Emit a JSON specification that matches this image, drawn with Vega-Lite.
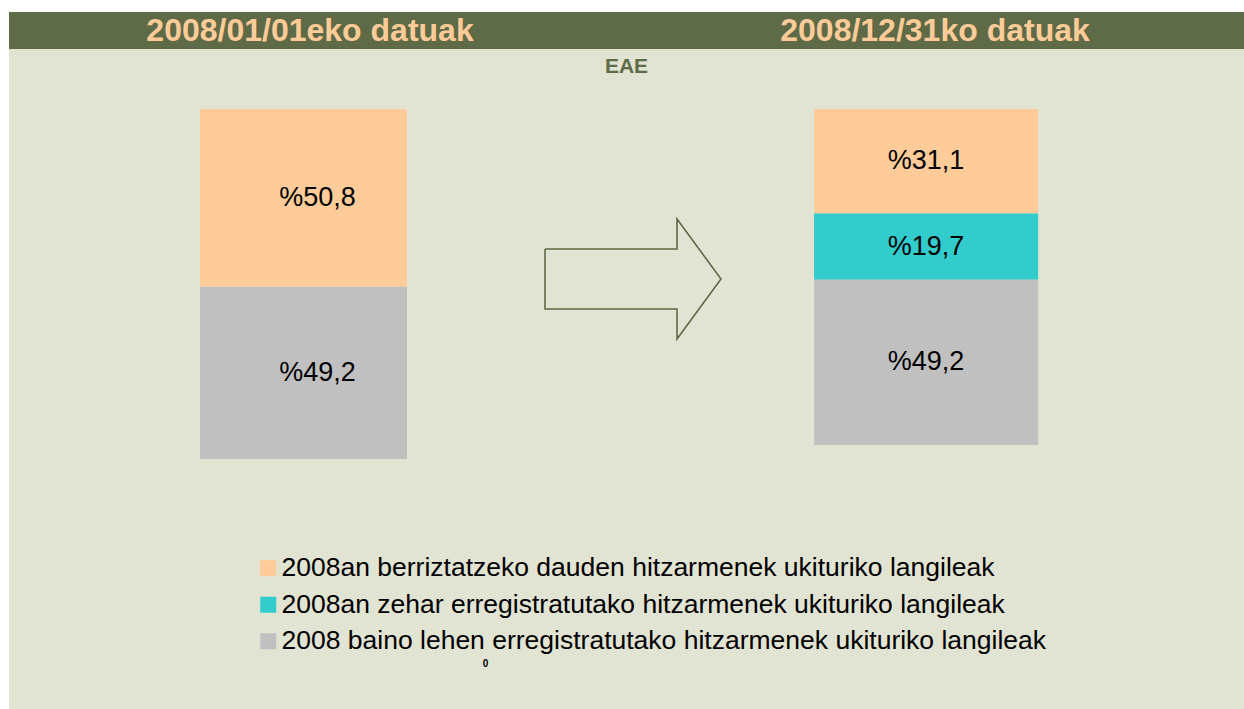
{
  "$schema": "https://vega.github.io/schema/vega-lite/v6.json",
  "background": "#E1E3D3",
  "padding": 0,
  "spacing": 0,
  "config": {
    "font": "Liberation Sans",
    "view": {"stroke": null},
    "concat": {"spacing": 0},
    "legend": {
      "orient": "none",
      "legendX": 255,
      "legendY": 555,
      "title": null,
      "symbolType": "square",
      "symbolSize": 256,
      "symbolStrokeWidth": 0,
      "symbolOffset": 0,
      "labelFont": "Liberation Sans",
      "labelFontSize": 26.5,
      "labelColor": "#000000",
      "labelLimit": 1000,
      "labelOffset": 0,
      "rowPadding": 9.5,
      "padding": 0
    }
  },
  "hconcat": [
    {
      "width": 9,
      "height": 709,
      "view": {"fill": "#FFFFFF", "stroke": null},
      "data": {"values": [{"t": ""}]},
      "mark": {"type": "text"},
      "encoding": {"text": {"field": "t", "type": "nominal"}}
    },
    {
      "spacing": 0,
      "vconcat": [
        {
          "width": 1235,
          "height": 12,
          "view": {"fill": "#FFFFFF", "stroke": null},
          "data": {"values": [{"t": ""}]},
          "mark": {"type": "text"},
          "encoding": {"text": {"field": "t", "type": "nominal"}}
        },
        {
          "width": 1235,
          "height": 37,
          "view": {"fill": "#5E6B46", "stroke": null},
          "data": {"values": [{"t": "2008/01/01eko datuak"}, {"t": "2008/12/31ko datuak"}]},
          "mark": {"type": "text", "fontSize": 32, "fontWeight": "bold", "color": "#FFCC99", "dx": -4},
          "encoding": {
            "x": {"field": "t", "type": "nominal", "sort": null, "axis": null, "scale": {"type": "point", "padding": 0.488}},
            "text": {"field": "t", "type": "nominal"}
          }
        },
        {
          "width": 1235,
          "height": 60,
          "data": {"values": [{"t": "EAE"}]},
          "mark": {"type": "text", "fontSize": 21, "fontWeight": "bold", "color": "#5E6B46", "dy": -12},
          "encoding": {"text": {"field": "t", "type": "nominal"}}
        },
        {
          "spacing": 0,
          "hconcat": [
            {
              "width": 461,
              "height": 350,
              "data": {"values": [
                {"fecha": "2008/01/01", "cat": "2008an berriztatzeko dauden hitzarmenek ukituriko langileak", "ord": 3, "pct": 50.8, "label": "%50,8"},
                {"fecha": "2008/01/01", "cat": "2008 baino lehen erregistratutako hitzarmenek ukituriko langileak", "ord": 1, "pct": 49.2, "label": "%49,2"}
              ]},
              "transform": [
                {"stack": "pct", "groupby": ["fecha"], "sort": [{"field": "ord", "order": "ascending"}], "as": ["y0", "y1"]},
                {"calculate": "(datum.y0 + datum.y1) / 2", "as": "ymid"}
              ],
              "encoding": {
                "x": {"field": "fecha", "type": "nominal", "axis": null, "scale": {"paddingInner": 0, "paddingOuter": 0.6135, "align": 0.752}}
              },
              "layer": [
                {
                  "mark": {"type": "bar", "stroke": null},
                  "encoding": {
                    "y": {"field": "y1", "type": "quantitative", "axis": null, "scale": {"domain": [0, 100], "nice": false}},
                    "y2": {"field": "y0"},
                    "color": {
                      "field": "cat", "type": "nominal",
                      "scale": {
                        "domain": ["2008an berriztatzeko dauden hitzarmenek ukituriko langileak", "2008an zehar erregistratutako hitzarmenek ukituriko langileak", "2008 baino lehen erregistratutako hitzarmenek ukituriko langileak"],
                        "range": ["#FFCC99", "#33CCCC", "#C0C0C0"]
                      },
                      "legend": {"orient": "none", "legendX": 255, "legendY": 555, "title": null}
                    }
                  }
                },
                {
                  "mark": {"type": "text", "fontSize": 27, "color": "#000000", "dx": 14},
                  "encoding": {
                    "y": {"field": "ymid", "type": "quantitative", "axis": null, "scale": {"domain": [0, 100], "nice": false}},
                    "text": {"field": "label", "type": "nominal"}
                  }
                }
              ]
            },
            {
              "width": 290,
              "height": 350,
              "data": {"values": [
                {"i": 1, "ax": 0, "ay": 30},
                {"i": 2, "ax": 132, "ay": 30},
                {"i": 3, "ax": 132, "ay": 60},
                {"i": 4, "ax": 176, "ay": 0},
                {"i": 5, "ax": 132, "ay": -60},
                {"i": 6, "ax": 132, "ay": -30},
                {"i": 7, "ax": 0, "ay": -30},
                {"i": 8, "ax": 0, "ay": 30}
              ]},
              "mark": {"type": "line", "color": "#5E6B46", "strokeWidth": 1.6, "strokeJoin": "miter"},
              "encoding": {
                "x": {"field": "ax", "type": "quantitative", "axis": null, "scale": {"domain": [-75, 215], "nice": false, "zero": false}},
                "y": {"field": "ay", "type": "quantitative", "axis": null, "scale": {"domain": [-180, 170], "nice": false, "zero": false}},
                "order": {"field": "i", "type": "quantitative"}
              }
            },
            {
              "width": 484,
              "height": 336,
              "data": {"values": [
                {"fecha": "2008/12/31", "cat": "2008an berriztatzeko dauden hitzarmenek ukituriko langileak", "ord": 3, "pct": 31.1, "label": "%31,1"},
                {"fecha": "2008/12/31", "cat": "2008an zehar erregistratutako hitzarmenek ukituriko langileak", "ord": 2, "pct": 19.7, "label": "%19,7"},
                {"fecha": "2008/12/31", "cat": "2008 baino lehen erregistratutako hitzarmenek ukituriko langileak", "ord": 1, "pct": 49.2, "label": "%49,2"}
              ]},
              "transform": [
                {"stack": "pct", "groupby": ["fecha"], "sort": [{"field": "ord", "order": "ascending"}], "as": ["y0", "y1"]},
                {"calculate": "(datum.y0 + datum.y1) / 2", "as": "ymid"}
              ],
              "encoding": {
                "x": {"field": "fecha", "type": "nominal", "axis": null, "scale": {"paddingInner": 0, "paddingOuter": 0.58, "align": 0.208}}
              },
              "layer": [
                {
                  "mark": {"type": "bar", "stroke": null},
                  "encoding": {
                    "y": {"field": "y1", "type": "quantitative", "axis": null, "scale": {"domain": [0, 100], "nice": false}},
                    "y2": {"field": "y0"},
                    "color": {
                      "field": "cat", "type": "nominal",
                      "scale": {
                        "domain": ["2008an berriztatzeko dauden hitzarmenek ukituriko langileak", "2008an zehar erregistratutako hitzarmenek ukituriko langileak", "2008 baino lehen erregistratutako hitzarmenek ukituriko langileak"],
                        "range": ["#FFCC99", "#33CCCC", "#C0C0C0"]
                      },
                      "legend": {"orient": "none", "legendX": 255, "legendY": 555, "title": null}
                    }
                  }
                },
                {
                  "mark": {"type": "text", "fontSize": 27, "color": "#000000"},
                  "encoding": {
                    "y": {"field": "ymid", "type": "quantitative", "axis": null, "scale": {"domain": [0, 100], "nice": false}},
                    "text": {"field": "label", "type": "nominal"}
                  }
                }
              ]
            }
          ]
        },
        {
          "width": 1235,
          "height": 250,
          "data": {"values": [{"t": "0"}]},
          "mark": {"type": "text", "fontSize": 10, "fontWeight": "bold", "color": "#000000", "dx": -141, "dy": 80},
          "encoding": {"text": {"field": "t", "type": "nominal"}}
        }
      ]
    }
  ]
}
